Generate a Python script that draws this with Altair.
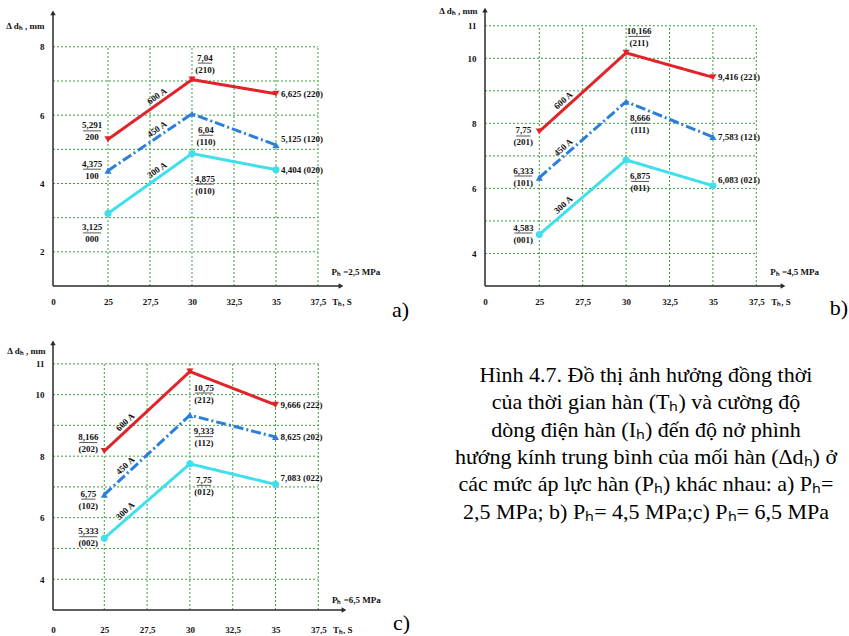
import altair as alt
import pandas as pd

# ---------------- data ----------------
times = [25, 30, 35]
currents = ["300 A", "450 A", "600 A"]
x_ticks = [25, 27.5, 30, 32.5, 35, 37.5]

# a) Ph = 2,5 MPa
a_300 = [3.125, 4.875, 4.404]
a_450 = [4.375, 6.04, 5.125]
a_600 = [5.291, 7.04, 6.625]
a_code_300 = ["000", "(010)", "(020)"]
a_code_450 = ["100", "(110)", "(120)"]
a_code_600 = ["200", "(210)", "(220)"]
a_y_ticks = [2, 4, 6, 8]
a_grid_y = [2, 3, 4, 5, 6, 7, 8]

# b) Ph = 4,5 MPa
b_300 = [4.583, 6.875, 6.083]
b_450 = [6.333, 8.666, 7.583]
b_600 = [7.75, 10.166, 9.416]
b_code_300 = ["(001)", "(011)", "(021)"]
b_code_450 = ["(101)", "(111)", "(121)"]
b_code_600 = ["(201)", "(211)", "(221)"]
b_y_ticks = [4, 6, 8, 10, 11]
b_grid_y = [4, 5, 6, 7, 8, 9, 10, 11]

# c) Ph = 6,5 MPa
c_300 = [5.333, 7.75, 7.083]
c_450 = [6.75, 9.333, 8.625]
c_600 = [8.166, 10.75, 9.666]
c_code_300 = ["(002)", "(012)", "(022)"]
c_code_450 = ["(102)", "(112)", "(202)"]
c_code_600 = ["(202)", "(212)", "(222)"]
c_y_ticks = [4, 6, 8, 10, 11]
c_grid_y = [4, 5, 6, 7, 8, 9, 10, 11]

caption_lines = [
    "Hình 4.7. Đồ thị ảnh hưởng đồng thời",
    "của thời gian hàn (Tₕ) và cường độ",
    "dòng điện hàn (Iₕ) đến độ nở phình",
    "hướng kính trung bình của mối hàn (Δdₕ) ở",
    "các mức áp lực hàn (Pₕ) khác nhau: a) Pₕ=",
    "2,5 MPa; b) Pₕ= 4,5 MPa;c) Pₕ= 6,5 MPa",
]

# ---------------- style ----------------
FONT = "Liberation Serif"
GREEN = "#3f9f3f"
AXIS = "#2a2a2a"
COLORS = ["#3fe0ec", "#2c7fd8", "#e0242a"]
SHAPES = ["circle", "triangle-up", "triangle-down"]
DASHES = [[1, 0], [10, 3, 2, 3], [1, 0]]
MODES = {
    "left": (-16, -1), "left_low": (-16, 5), "left_up": (-16, -8), "left_down": (-16, 20),
    "above_right": (13, -16), "below_right": (14, 22), "below_far": (13, 31),
    "right": (5, 0), "right_up": (5, -6),
}

a_place = {"300 A": ["left_down", "below_far", "right"],
           "450 A": ["left", "below_right", "right_up"],
           "600 A": ["left_up", "above_right", "right"]}
b_place = {"300 A": ["left", "below_right", "right_up"],
           "450 A": ["left", "below_right", "right"],
           "600 A": ["left_low", "above_right", "right"]}
c_place = {"300 A": ["left", "below_right", "right_up"],
           "450 A": ["left_low", "below_right", "right"],
           "600 A": ["left_up", "below_right", "right"]}


def fmt(v):
    return ("%g" % v).replace(".", ",")


def panel(vals, codes, place, xd, yd, yticks, gridy, gridtop, yarrow, xarrow,
          ph, tag, W, H, frac, angle, title_x, title_y, lab_pad, ph_dy, tag_dy):
    xs = alt.Scale(domain=xd, nice=False, zero=False)
    ys = alt.Scale(domain=yd, nice=False, zero=False)
    xaxis = alt.Axis(
        values=[xd[0]] + x_ticks + [38.9],
        labelExpr="datum.value < 24 ? '0' : datum.value > 38 ? 'Tₕ, S' : replace(toString(datum.value), '.', ',')",
        title=None, grid=False, domain=False, ticks=False, tickSize=0,
        labelPadding=lab_pad, labelFlush=False, labelOverlap=False,
        labelFont=FONT, labelFontSize=9, labelFontWeight="bold", labelColor="#111")
    yaxis = alt.Axis(
        values=yticks, title="Δ dₕ , mm", titleAngle=0, titleAlign="right",
        titleBaseline="middle", titleX=title_x, titleY=title_y, titleFont=FONT,
        titleFontSize=9, titleFontWeight="bold", titleColor="#111",
        grid=False, domain=False, ticks=False, tickSize=0, labelPadding=9,
        labelFlush=False, labelOverlap=False, labelFont=FONT, labelFontSize=9,
        labelFontWeight="bold", labelColor="#111")

    def X(f):
        return alt.X(f, scale=xs, axis=xaxis)

    def Y(f):
        return alt.Y(f, scale=ys, axis=yaxis)

    rows = []
    for s in currents:
        for i, t in enumerate(times):
            rows.append({"x": t, "y": vals[s][i], "s": s, "num": fmt(vals[s][i]),
                         "code": codes[s][i], "mode": place[s][i]})
    pts = pd.DataFrame(rows)
    pts["frac"] = pts["num"] + "\n" + pts["code"]
    pts["single"] = pts["num"] + " " + pts["code"]
    pts["bar"] = pts["num"].str.len() * 3.6

    color = alt.Color("s:N", scale=alt.Scale(domain=currents, range=COLORS), legend=None)

    gh = alt.Chart(pd.DataFrame({"y": gridy, "x": xd[0], "x2": 37.5})).mark_rule(
        color=GREEN, strokeDash=[2, 2], strokeWidth=1).encode(x=X("x:Q"), x2="x2:Q", y=Y("y:Q"))
    gv = alt.Chart(pd.DataFrame({"x": x_ticks, "y": yd[0], "y2": gridtop})).mark_rule(
        color=GREEN, strokeDash=[2, 2], strokeWidth=1).encode(x=X("x:Q"), y=Y("y:Q"), y2="y2:Q")
    ax = alt.Chart(pd.DataFrame({"x": [xd[0], xd[0]], "x2": [xarrow, xd[0]],
                                 "y": [yd[0], yd[0]], "y2": [yd[0], yarrow]})).mark_rule(
        color=AXIS, strokeWidth=1.5).encode(x=X("x:Q"), x2="x2:Q", y=Y("y:Q"), y2="y2:Q")
    arr = alt.Chart(pd.DataFrame({"x": [xarrow, xd[0]], "y": [yd[0], yarrow],
                                  "sh": ["triangle-right", "triangle-up"]})).mark_point(
        filled=True, color=AXIS, size=30, opacity=1).encode(
        x=X("x:Q"), y=Y("y:Q"), shape=alt.Shape("sh:N", scale=None))

    lines = alt.Chart(pts).mark_line(strokeWidth=3).encode(
        x=X("x:Q"), y=Y("y:Q"), color=color,
        strokeDash=alt.StrokeDash("s:N", scale=alt.Scale(domain=currents, range=DASHES), legend=None),
        order="x:Q")
    points = alt.Chart(pts).mark_point(filled=True, size=50, opacity=1).encode(
        x=X("x:Q"), y=Y("y:Q"), color=color,
        shape=alt.Shape("s:N", scale=alt.Scale(domain=currents, range=SHAPES), legend=None))

    layers = [gh, gv, ax, arr, lines, points]
    for mode in sorted(set(pts["mode"])):
        dx, dy = MODES[mode]
        base = alt.Chart(pts).transform_filter(alt.datum.mode == mode)
        if mode.startswith("right"):
            layers.append(base.mark_text(align="left", baseline="middle", dx=dx, dy=dy,
                                         font=FONT, fontSize=9, fontWeight="bold", color="#111")
                          .encode(x=X("x:Q"), y=Y("y:Q"), text="single:N"))
        else:
            # two-line fraction: first line drawn at dy - 6, second 12 px lower
            layers.append(base.mark_text(align="center", baseline="middle", dx=dx, dy=dy - 6,
                                         lineBreak="\n", lineHeight=12,
                                         font=FONT, fontSize=9, fontWeight="bold", color="#111")
                          .encode(x=X("x:Q"), y=Y("y:Q"), text="frac:N"))
            layers.append(base.mark_tick(orient="horizontal", thickness=1, color="#111",
                                         xOffset=dx, yOffset=dy - 0.5)
                          .encode(x=X("x:Q"), y=Y("y:Q"), size=alt.Size("bar:Q", scale=None)))

    ll = pd.DataFrame({"s": currents,
                       "x": [25 + frac * 5] * 3,
                       "y": [vals[s][0] + frac * (vals[s][1] - vals[s][0]) for s in currents]})
    layers.append(alt.Chart(ll).mark_text(angle=angle, baseline="bottom", dy=-2, font=FONT,
                                          fontSize=9, fontWeight="bold", color="#111")
                  .encode(x=X("x:Q"), y=Y("y:Q"), text="s:N"))
    layers.append(alt.Chart(pd.DataFrame({"x": [38.3], "y": [yd[0]], "t": [ph]})).mark_text(
        align="left", baseline="middle", dy=ph_dy, font=FONT, fontSize=9, fontWeight="bold",
        color="#111").encode(x=X("x:Q"), y=Y("y:Q"), text="t:N"))
    layers.append(alt.Chart(pd.DataFrame({"x": [xd[1]], "y": [yd[0]], "t": [tag]})).mark_text(
        align="right", baseline="middle", dy=tag_dy, font=FONT, fontSize=22, color="#000")
        .encode(x=X("x:Q"), y=Y("y:Q"), text="t:N"))
    return alt.layer(*layers).properties(width=W, height=H)


pa = panel({"300 A": a_300, "450 A": a_450, "600 A": a_600},
           {"300 A": a_code_300, "450 A": a_code_450, "600 A": a_code_600}, a_place,
           [21.726, 42.917], [1, 9.253], a_y_ticks, a_grid_y, 8, 8.99, 38.87,
           "Pₕ =2,5 MPa", "a)", 356, 282, 0.63, 325, -9, 21, 11, -14, 24)
pb = panel({"300 A": b_300, "450 A": b_450, "600 A": b_600},
           {"300 A": b_code_300, "450 A": b_code_450, "600 A": b_code_600}, b_place,
           [21.872, 42.782], [3, 11.669], b_y_ticks, b_grid_y, 11, 11.48, 39.04,
           "Pₕ =4,5 MPa", "b)", 363, 282, 0.33, 318, -8, 6, 11, -14, 22)
pc = panel({"300 A": c_300, "450 A": c_450, "600 A": c_600},
           {"300 A": c_code_300, "450 A": c_code_450, "600 A": c_code_600}, c_place,
           [22.004, 42.857], [3, 11.775], c_y_ticks, c_grid_y, 11, 11.68, 39.0,
           "Pₕ =6,5 MPa", "c)", 357, 270, 0.3, 317, -8, 10, 15, -10, 13)

cap = alt.Chart(pd.DataFrame({"i": list(range(len(caption_lines))), "t": caption_lines})).mark_text(
    font=FONT, fontSize=22, align="center", baseline="middle", color="#000").encode(
    x=alt.value(226),
    y=alt.Y("i:Q", scale=alt.Scale(domain=[-1.281, 6.037], reverse=True), axis=None),
    text="t:N").properties(width=427, height=200)

chart = alt.vconcat(
    alt.hconcat(pa, pb, spacing=29),
    alt.hconcat(pc, cap, spacing=10),
    spacing=19,
).properties(
    padding={"left": 5, "top": 4, "right": 0, "bottom": 0},
    background="white",
).configure_view(stroke=None)

chart.save("out.html", embed_options={"renderer": "svg", "actions": False})
